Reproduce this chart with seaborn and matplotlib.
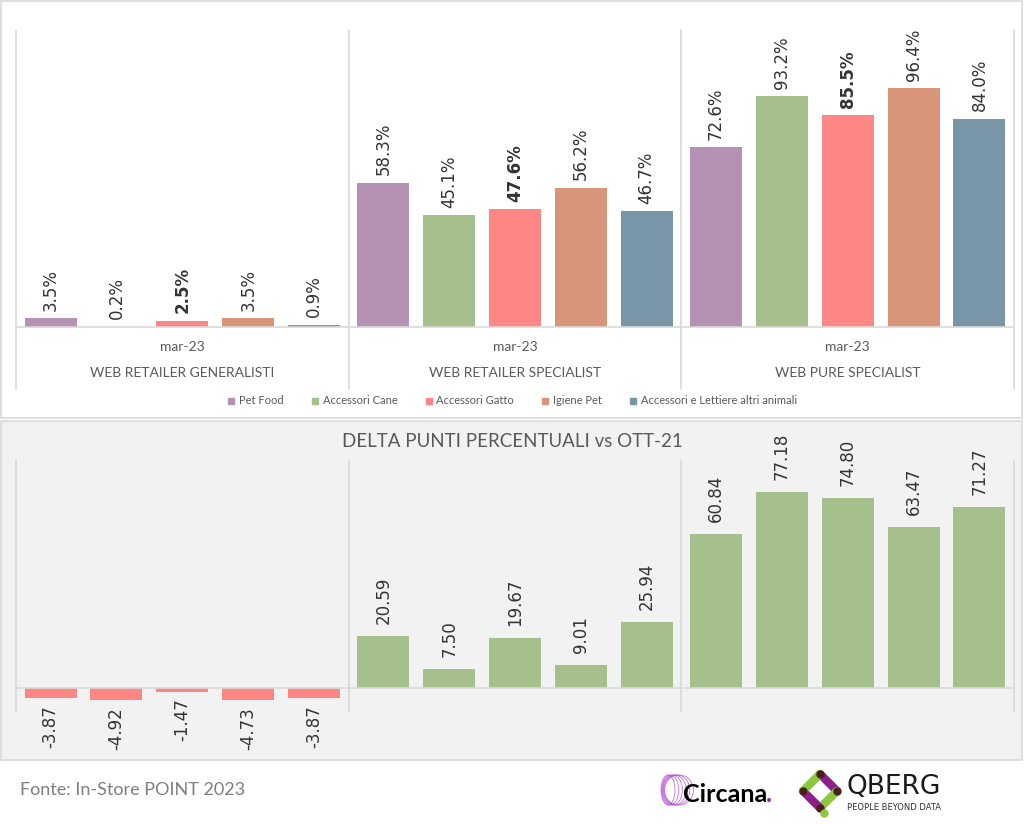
import matplotlib.pyplot as plt
import matplotlib.patches as mpatches
from matplotlib.lines import Line2D
import numpy as np
import pandas as pd
import seaborn as sns

groups = ["WEB RETAILER GENERALISTI", "WEB RETAILER SPECIALIST", "WEB PURE SPECIALIST"]
period = "mar-23"
categories = ["Pet Food", "Accessori Cane", "Accessori Gatto", "Igiene Pet",
              "Accessori e Lettiere altri animali"]
colors = ["#b591b4", "#a6c08d", "#fe8684", "#d8957a", "#7896a8"]

share_generalisti = [3.5, 0.2, 2.5, 3.5, 0.9]
share_specialist = [58.3, 45.1, 47.6, 56.2, 46.7]
share_pure = [72.6, 93.2, 85.5, 96.4, 84.0]

delta_generalisti = [-3.87, -4.92, -1.47, -4.73, -3.87]
delta_specialist = [20.59, 7.50, 19.67, 9.01, 25.94]
delta_pure = [60.84, 77.18, 74.80, 63.47, 71.27]

W, H = 1024, 824
LABEL = "#333333"
GRID = "#d9d9d9"


def long_frame(a, b, c):
    rows = []
    for g, vals in zip(groups, [a, b, c]):
        for cat, v in zip(categories, vals):
            rows.append({"group": g, "category": cat, "value": v})
    return pd.DataFrame(rows)


def ax_rect(x0, y0, x1, y1):
    return [x0 / W, 1 - y1 / H, (x1 - x0) / W, (y1 - y0) / H]


sns.set_theme(style="white")
plt.rcParams["font.family"] = ["Lato", "DejaVu Sans"]

fig = plt.figure(figsize=(W / 100, H / 100), dpi=100)
fig.patch.set_facecolor("white")

# panel backgrounds
fig.patches.append(mpatches.Rectangle((1 / W, 1 - 418 / H), 1021 / W, 417 / H,
                                      transform=fig.transFigure, facecolor="white",
                                      edgecolor=GRID, lw=1.2, zorder=-10))
fig.patches.append(mpatches.Rectangle((1 / W, 1 - 760 / H), 1021 / W, 339 / H,
                                      transform=fig.transFigure, facecolor="#f2f2f2",
                                      edgecolor=GRID, lw=1.2, zorder=-10))

df_top = long_frame(share_generalisti, share_specialist, share_pure)
df_bot = long_frame(delta_generalisti, delta_specialist, delta_pure)

# ---------------- top chart ----------------
ax1 = fig.add_axes(ax_rect(16, 30, 1014, 327))
sns.barplot(data=df_top, x="group", y="value", hue="category", order=groups,
            hue_order=categories, palette=colors, width=0.99, gap=0.21,
            legend=False, ax=ax1, saturation=1, linewidth=0)
ax1.set_xlim(-0.5, 2.5)
ax1.set_ylim(0, 120)
ax1.set_facecolor("none")
for s in ax1.spines.values():
    s.set_visible(False)
ax1.set_xticks([])
ax1.set_yticks([])
ax1.set_xlabel("")
ax1.set_ylabel("")
ax1.axhline(0, color=GRID, lw=1.2, clip_on=False)
for xs in [-0.5, 0.5, 1.5, 2.5]:
    ax1.plot([xs, xs], [120, -25], color=GRID, lw=1.2, clip_on=False)
for i, g in enumerate(groups):
    ax1.text(i, -8, period, ha="center", va="center", fontsize=10, color="#595959")
    ax1.text(i, -18.5, g, ha="center", va="center", fontsize=10, color="#595959")

for cat, cont in zip(categories, ax1.containers):
    for bar in cont:
        h = bar.get_height()
        ax1.annotate(f"{h:.1f}%", (bar.get_x() + bar.get_width() / 2, h),
                     xytext=(0, 5.5), textcoords="offset points", rotation=90,
                     ha="center", va="bottom", fontsize=12, color=LABEL,
                     family="DejaVu Sans",
                     fontweight="bold" if cat == "Accessori Gatto" else "normal")

handles = [Line2D([], [], marker="s", ls="", color=c, markersize=5) for c in colors]
fig.legend(handles, categories, loc="center", bbox_to_anchor=(0.5, 1 - 401 / H),
           ncol=5, frameon=False, fontsize=8, handlelength=0.8, handletextpad=0.3,
           columnspacing=2.4, labelcolor="#595959")

# ---------------- bottom chart ----------------
ax2 = fig.add_axes(ax_rect(16, 460, 1014, 712))
sns.barplot(data=df_bot, x="group", y="value", hue="category", order=groups,
            hue_order=categories, palette=["#a6c08d"] * 5, width=0.99, gap=0.21,
            legend=False, ax=ax2, saturation=1, linewidth=0)
for p in ax2.patches:
    if p.get_height() < 0:
        p.set_facecolor("#fe8684")
ax2.set_xlim(-0.5, 2.5)
ax2.set_ylim(-9.45, 89.8)
ax2.set_facecolor("none")
for s in ax2.spines.values():
    s.set_visible(False)
ax2.set_xticks([])
ax2.set_yticks([])
ax2.set_xlabel("")
ax2.set_ylabel("")
ax2.axhline(0, color=GRID, lw=1.2)
for xs in [-0.5, 0.5, 1.5, 2.5]:
    ax2.plot([xs, xs], [-9.45, 89.8], color=GRID, lw=1.2, clip_on=False)

for cont in ax2.containers:
    for bar in cont:
        h = bar.get_height()
        neg = h < 0
        ax2.annotate(f"{h:.2f}", (bar.get_x() + bar.get_width() / 2, h),
                     xytext=(0, -5 if neg else 8.5), textcoords="offset points",
                     rotation=90, ha="center", va="top" if neg else "bottom",
                     fontsize=12, color=LABEL, family="DejaVu Sans",
                     annotation_clip=False)

fig.text(512 / W, 1 - 441 / H, "DELTA PUNTI PERCENTUALI vs OTT-21", ha="center",
         va="center", fontsize=13.5, color="#595959")

# ---------------- footer ----------------
fig.text(20 / W, 1 - 790 / H, "Fonte: In-Store POINT 2023", ha="left", va="center",
         fontsize=13, color="#7f7f7f")

# Circana logo (approximation)
for k in range(6):
    fig.patches.append(mpatches.Ellipse(((668 + k * 2.2) / W, 1 - 790 / H),
                                        (14 + k * 3) / W, 30 / H,
                                        transform=fig.transFigure, fill=False,
                                        edgecolor="#b04fd0", lw=0.6, alpha=0.8))
fig.text(683 / W, 1 - 795 / H, "Circana", ha="left", va="center", fontsize=18,
         color="black", family="Lato", fontweight="bold")
fig.text(766 / W, 1 - 795 / H, ".", ha="left", va="center", fontsize=18,
         color="#8b1fa9", fontweight="bold")

# QBERG logo (approximation)
cx, cy = 820, 791
pts = [(cx, cy - 17), (cx + 17, cy), (cx, cy + 17), (cx - 17, cy), (cx, cy - 17)]
seg_cols = ["#8d1e8a", "#8dc63f", "#8d1e8a", "#8dc63f"]
for (xa, ya), (xb, yb), c in zip(pts[:-1], pts[1:], seg_cols):
    fig.add_artist(Line2D([xa / W, xb / W], [1 - ya / H, 1 - yb / H],
                          transform=fig.transFigure, color=c, lw=6,
                          solid_capstyle="round"))
for (xa, ya) in pts[:-1]:
    fig.add_artist(Line2D([xa / W], [1 - ya / H], transform=fig.transFigure,
                          marker="o", color="#4a1f1a", markersize=5, ls=""))
fig.add_artist(Line2D([(cx + 4) / W], [1 - (cy + 22) / H], transform=fig.transFigure,
                      marker="o", color="#8dc63f", markersize=5, ls=""))
fig.text(846 / W, 1 - 787 / H, "QBERG", ha="left", va="center", fontsize=19,
         color="#1a1a1a", family="DejaVu Sans")
fig.text(847 / W, 1 - 807 / H, "PEOPLE BEYOND DATA", ha="left", va="center",
         fontsize=6, color="#333333", family="DejaVu Sans")

fig.savefig("out.png", dpi=100)
